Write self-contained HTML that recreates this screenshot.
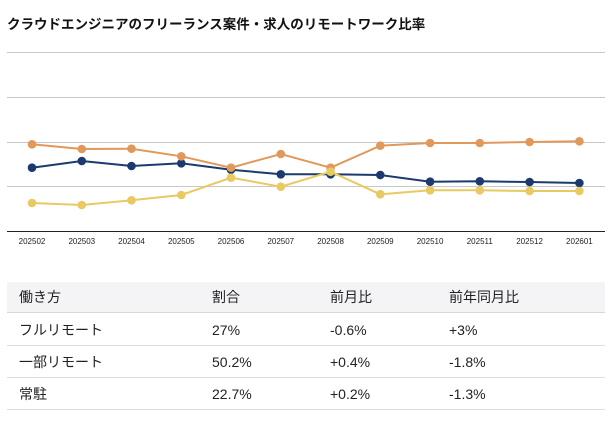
<!DOCTYPE html>
<html><head><meta charset="utf-8">
<style>
html,body{margin:0;padding:0;background:#fff;}
body{width:616px;height:423px;position:relative;overflow:hidden;font-family:"Liberation Sans","Noto Sans CJK JP",sans-serif;color:#222;}
.title{position:absolute;left:7px;top:15px;font-size:13.5px;font-weight:bold;line-height:20px;white-space:nowrap;color:#111;font-family:"Liberation Sans","Noto Sans CJK JP",sans-serif;}
svg{position:absolute;left:0;top:0;}
.th{position:absolute;left:7px;width:598px;top:282px;height:31px;background:#f4f4f6;border-bottom:1px solid #d8d8d8;box-sizing:border-box;}
.row{position:absolute;left:7px;width:598px;height:32px;border-bottom:1px solid #dcdcdc;box-sizing:border-box;}
.c{position:absolute;font-size:14px;line-height:20px;white-space:nowrap;color:#222;}
</style></head><body>
<div class="title">クラウドエンジニアのフリーランス案件・求人のリモートワーク比率</div>
<svg width="616" height="260" viewBox="0 0 616 260">
<g stroke="#c8c8c8" stroke-width="1">
<line x1="7" x2="605" y1="52.5" y2="52.5"/>
<line x1="7" x2="605" y1="97.5" y2="97.5"/>
<line x1="7" x2="605" y1="142.5" y2="142.5"/>
<line x1="7" x2="605" y1="186.5" y2="186.5"/>
</g>
<line x1="7" x2="605" y1="231.5" y2="231.5" stroke="#222" stroke-width="1"/>
<g font-family="Liberation Sans, sans-serif" font-size="8" fill="#222" text-anchor="middle">
<text x="32" y="244">202502</text>
<text x="81.8" y="244">202503</text>
<text x="131.5" y="244">202504</text>
<text x="181.3" y="244">202505</text>
<text x="231" y="244">202506</text>
<text x="280.8" y="244">202507</text>
<text x="330.6" y="244">202508</text>
<text x="380.3" y="244">202509</text>
<text x="430.1" y="244">202510</text>
<text x="479.8" y="244">202511</text>
<text x="529.6" y="244">202512</text>
<text x="579.4" y="244">202601</text>
</g>
<!-- blue -->
<g fill="#1b3a6d" stroke="#1b3a6d">
<polyline fill="none" stroke-width="2" points="32,167.7 81.8,161 131.5,166 181.3,163.3 231,169.7 280.8,174.3 330.6,174.3 380.3,175 430.1,181.7 479.8,181.3 529.6,182 579.4,183"/>
<g stroke="none">
<circle cx="32" cy="167.7" r="4.3"/><circle cx="81.8" cy="161" r="4.3"/><circle cx="131.5" cy="166" r="4.3"/><circle cx="181.3" cy="163.3" r="4.3"/><circle cx="231" cy="169.7" r="4.3"/><circle cx="280.8" cy="174.3" r="4.3"/><circle cx="330.6" cy="174.3" r="4.3"/><circle cx="380.3" cy="175" r="4.3"/><circle cx="430.1" cy="181.7" r="4.3"/><circle cx="479.8" cy="181.3" r="4.3"/><circle cx="529.6" cy="182" r="4.3"/><circle cx="579.4" cy="183" r="4.3"/>
</g></g>
<!-- orange -->
<g fill="#e1985b" stroke="#e1985b">
<polyline fill="none" stroke-width="2" points="32,144.3 81.8,149 131.5,148.7 181.3,156.3 231,167.7 280.8,154 330.6,167.7 380.3,145.7 430.1,143 479.8,143 529.6,142 579.4,141.3"/>
<g stroke="none">
<circle cx="32" cy="144.3" r="4.3"/><circle cx="81.8" cy="149" r="4.3"/><circle cx="131.5" cy="148.7" r="4.3"/><circle cx="181.3" cy="156.3" r="4.3"/><circle cx="231" cy="167.7" r="4.3"/><circle cx="280.8" cy="154" r="4.3"/><circle cx="330.6" cy="167.7" r="4.3"/><circle cx="380.3" cy="145.7" r="4.3"/><circle cx="430.1" cy="143" r="4.3"/><circle cx="479.8" cy="143" r="4.3"/><circle cx="529.6" cy="142" r="4.3"/><circle cx="579.4" cy="141.3" r="4.3"/>
</g></g>
<!-- yellow -->
<g fill="#e9c962" stroke="#e9c962">
<polyline fill="none" stroke-width="2" points="32,203 81.8,205 131.5,200.3 181.3,195 231,177.7 280.8,186.7 330.6,171.7 380.3,194.3 430.1,190.3 479.8,190.3 529.6,191 579.4,191"/>
<g stroke="none">
<circle cx="32" cy="203" r="4.3"/><circle cx="81.8" cy="205" r="4.3"/><circle cx="131.5" cy="200.3" r="4.3"/><circle cx="181.3" cy="195" r="4.3"/><circle cx="231" cy="177.7" r="4.3"/><circle cx="280.8" cy="186.7" r="4.3"/><circle cx="330.6" cy="171.7" r="4.3"/><circle cx="380.3" cy="194.3" r="4.3"/><circle cx="430.1" cy="190.3" r="4.3"/><circle cx="479.8" cy="190.3" r="4.3"/><circle cx="529.6" cy="191" r="4.3"/><circle cx="579.4" cy="191" r="4.3"/>
</g></g>
</svg>

<div class="th"></div>
<div class="row" style="top:314px"></div>
<div class="row" style="top:346px"></div>
<div class="row" style="top:378px"></div>

<div class="c" style="left:19px;top:287px">働き方</div>
<div class="c" style="left:212px;top:287px">割合</div>
<div class="c" style="left:330px;top:287px">前月比</div>
<div class="c" style="left:449px;top:287px">前年同月比</div>

<div class="c" style="left:19px;top:320px">フルリモート</div>
<div class="c" style="left:212px;top:320px">27%</div>
<div class="c" style="left:330px;top:320px">-0.6%</div>
<div class="c" style="left:449px;top:320px">+3%</div>

<div class="c" style="left:19px;top:352px">一部リモート</div>
<div class="c" style="left:212px;top:352px">50.2%</div>
<div class="c" style="left:330px;top:352px">+0.4%</div>
<div class="c" style="left:449px;top:352px">-1.8%</div>

<div class="c" style="left:19px;top:384px">常駐</div>
<div class="c" style="left:212px;top:384px">22.7%</div>
<div class="c" style="left:330px;top:384px">+0.2%</div>
<div class="c" style="left:449px;top:384px">-1.3%</div>
</body></html>
